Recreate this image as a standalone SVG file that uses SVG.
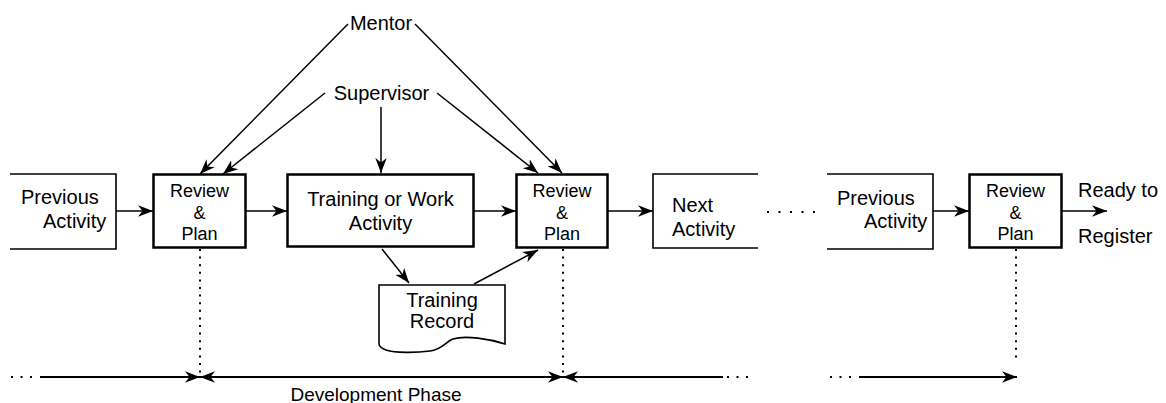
<svg xmlns="http://www.w3.org/2000/svg" width="1166" height="403" viewBox="0 0 1166 403">
<style>
text{font-family:"Liberation Sans",Arial,sans-serif;fill:#000;font-size:20px}
.sm{font-size:18px}
.ph{font-size:19px}
.mid{text-anchor:middle}
.thick{fill:#fff;stroke:#000;stroke-width:2.5}
.thin{fill:none;stroke:#000;stroke-width:1.6}
.con{fill:none;stroke:#000;stroke-width:1.5}
.arr{marker-end:url(#ah)}
.dot{fill:none;stroke:#000;stroke-width:2;stroke-dasharray:2 5.6}
.dot2{fill:none;stroke:#000;stroke-width:2;stroke-dasharray:2 7.5}
</style>
<defs>
<marker id="ah" viewBox="0 0 15 13" refX="15" refY="6.5" markerWidth="15" markerHeight="13" markerUnits="userSpaceOnUse" orient="auto-start-reverse">
<path d="M0,0.8 L15,6.5 L0,12.2 L4.5,6.5 Z" fill="#000"/>
</marker>
</defs>
<g id="prev1">
<path class="thin" d="M10,174 H116 V249 H10"/>
<text x="21" y="204">Previous</text>
<text x="43" y="228">Activity</text>
</g>
<g id="review1">
<rect class="thick" x="153.5" y="174.5" width="92" height="73"/>
<text class="sm mid" x="199.5" y="197">Review</text>
<text class="sm mid" x="199.5" y="218.5">&amp;</text>
<text class="sm mid" x="199.5" y="240">Plan</text>
</g>
<g id="training">
<rect class="thick" x="287.5" y="174.5" width="186" height="72"/>
<text class="mid" x="380.5" y="206">Training or Work</text>
<text class="mid" x="380.5" y="230">Activity</text>
</g>
<g id="review2">
<rect class="thick" x="516.5" y="174.5" width="91" height="73"/>
<text class="sm mid" x="562" y="197">Review</text>
<text class="sm mid" x="562" y="218.5">&amp;</text>
<text class="sm mid" x="562" y="240">Plan</text>
</g>
<g id="next">
<path class="thin" d="M758,174 H653 V248 H758"/>
<text x="672" y="212">Next</text>
<text x="672" y="236">Activity</text>
</g>
<g id="prev2">
<path class="thin" d="M827,174 H933 V249 H827"/>
<text x="837" y="205">Previous</text>
<text x="864" y="228">Activity</text>
</g>
<g id="review3">
<rect class="thick" x="969.5" y="174.5" width="92" height="73"/>
<text class="sm mid" x="1015.5" y="197">Review</text>
<text class="sm mid" x="1015.5" y="218.5">&amp;</text>
<text class="sm mid" x="1015.5" y="240">Plan</text>
</g>
<g id="record">
<path class="thin" d="M379,285 H505 V344 C490,339 465,335 453,339 C445,342 443,349 430,351 C415,353 395,353 386,350 C381,348 379,346 379,344 Z"/>
<text class="mid" x="442" y="307">Training</text>
<text class="mid" x="442" y="328">Record</text>
</g>
<g id="mentor"><text class="mid" x="381" y="30">Mentor</text></g>
<g id="supervisor"><text class="mid" x="381.5" y="100">Supervisor</text></g>
<g id="ready"><text x="1078" y="197">Ready to</text><text x="1078" y="243">Register</text></g>
<g id="phase"><text class="ph mid" x="376" y="401">Development Phase</text></g>
<g id="connectors">
<line class="con arr" x1="116" y1="211" x2="153" y2="211"/>
<line class="con arr" x1="246" y1="211" x2="287" y2="211"/>
<line class="con arr" x1="474" y1="211" x2="516" y2="211"/>
<line class="con arr" x1="608" y1="211" x2="653" y2="211"/>
<line class="con arr" x1="933" y1="211" x2="969" y2="211"/>
<line class="con arr" x1="1062" y1="211" x2="1107" y2="211"/>
<line class="con arr" x1="348" y1="24" x2="200" y2="174"/>
<line class="con arr" x1="325" y1="93" x2="223" y2="174"/>
<line class="con arr" x1="415" y1="24" x2="562" y2="173"/>
<line class="con arr" x1="437" y1="93" x2="538" y2="173"/>
<line class="con arr" x1="381" y1="107" x2="381" y2="173"/>
<line class="con arr" x1="382" y1="249" x2="409" y2="283"/>
<line class="con arr" x1="474" y1="284" x2="538" y2="250"/>
<line class="dot" x1="200" y1="249" x2="200" y2="377"/>
<line class="dot" x1="563" y1="249" x2="563" y2="377"/>
<line class="dot" x1="1016" y1="249" x2="1016" y2="360"/>
<line class="dot2" x1="767" y1="212" x2="815" y2="212" style="stroke-dasharray:2 9.5"/>
<line class="con arr" x1="40" y1="377" x2="200" y2="377" style="stroke-width:1.8"/>
<line class="con arr" x1="200" y1="377" x2="563" y2="377" style="marker-start:url(#ah);stroke-width:1.8"/>
<line class="con" x1="563" y1="377" x2="723" y2="377" style="marker-start:url(#ah);stroke-width:1.8"/>
<line class="con arr" x1="859" y1="377" x2="1017" y2="377" style="stroke-width:1.8"/>
<line class="dot2" x1="11" y1="377" x2="38" y2="377"/>
<line class="dot2" x1="727" y1="377" x2="748" y2="377"/>
<line class="dot2" x1="830" y1="377" x2="857" y2="377"/>
</g>
</svg>
